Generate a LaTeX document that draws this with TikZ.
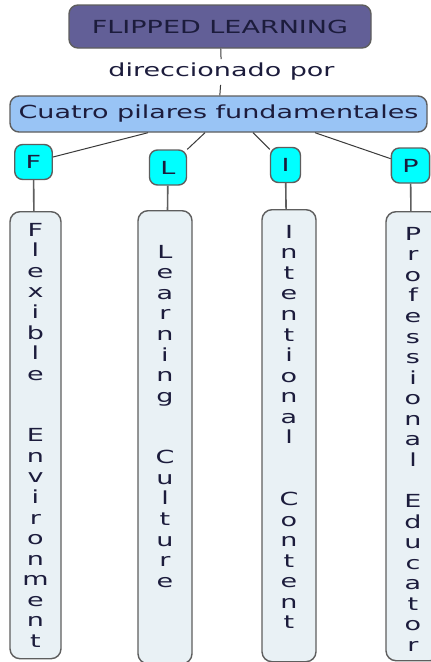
\documentclass[tikz,border=0pt]{standalone}
\usepackage{fontspec}
\usetikzlibrary{positioning}
\newfontfamily\mapfont[FakeStretch=1.5]{DejaVu Sans}
\definecolor{titlefill}{HTML}{625F97}
\definecolor{pillarfill}{HTML}{99C4F5}
\definecolor{initialfill}{HTML}{00FFFF}
\definecolor{colfill}{HTML}{E9F1F5}
\definecolor{edgegray}{HTML}{5E5E5E}
\definecolor{linkgray}{HTML}{3A3A3A}
\definecolor{inkblue}{HTML}{1C1C3C}
\def\mapsize{\fontsize{18}{20.55}\selectfont}

\tikzset{
  concept/.style={draw=edgegray, line width=1.4pt, rounded corners=9pt,
    font=\mapfont\mapsize, text=inkblue},
  initial/.style={concept, fill=initialfill, minimum height=35pt, inner xsep=11pt,
    rounded corners=8pt},
  column/.style={concept, fill=colfill, rounded corners=10pt},
  letters/.style={font=\mapfont\mapsize, text=inkblue, align=center, inner sep=0pt},
  link/.style={draw=linkgray, line width=1pt},
  stem/.style={draw=edgegray, line width=1.6pt}
}

\begin{document}
\begin{tikzpicture}[x=1pt,y=1pt]
  %%%%% START %%%%%
  \useasboundingbox[fill=white] (0,0) rectangle (431,-662);

  \node[concept, fill=titlefill, minimum width=302pt, minimum height=43pt] (flipped) at (220,-26.5) {FLIPPED LEARNING};
  \node[font=\mapfont\mapsize, text=inkblue, inner xsep=2pt, inner ysep=4pt] (verb) at (221.5,-72) {direccionado por};
  \node[concept, fill=pillarfill, minimum width=417pt, minimum height=36pt, inner xsep=2pt] (pillars) at (218.5,-114) {Cuatro pilares fundamentales};

  \draw[link] (flipped) -- (verb);
  \draw[link] (verb) -- (pillars);

  % the four letters
  \node[initial] (f) at (33.5,-162) {F};
  \node[initial] (l) at (168,-167.5) {L};
  \node[initial] (i) at (285.5,-165) {I};
  \node[initial] (p) at (410.5,-165.5) {P};

  \draw[link] ([xshift=-70.5pt]pillars.south) -- (f);
  \draw[link] ([xshift=-13.5pt]pillars.south) -- (l);
  \draw[link] ([xshift=34.5pt]pillars.south) -- (i);
  \draw[link] ([xshift=96.5pt]pillars.south) -- (p);

  % tall columns
  \node[column, anchor=north, minimum width=51pt, minimum height=447pt] (flexbox) at (35.5,-211) {};
  \node[column, anchor=north, minimum width=54pt, minimum height=453pt] (learnbox) at (165,-210) {};
  \node[column, anchor=north, minimum width=54pt, minimum height=452pt] (intentbox) at (289,-209) {};
  \node[column, anchor=north, minimum width=54pt, minimum height=449pt] (profbox) at (413,-211) {};

  \draw[stem] (f) -- (flexbox);
  \draw[stem] (l) -- (learnbox);
  \draw[stem] (i) -- (intentbox);
  \draw[stem] (p) -- (profbox);

  \node[letters, below=12pt of flexbox.north] (flextext)
    {F\\l\\e\\x\\i\\b\\l\\e\\ \\ \\E\\n\\v\\i\\r\\o\\n\\m\\e\\n\\t};
  \node[letters, below=35pt of learnbox.north] (learntext)
    {L\\e\\a\\r\\n\\i\\n\\g\\ \\ \\C\\u\\l\\t\\u\\r\\e};
  \node[letters, below=16pt of intentbox.north] (intenttext)
    {I\\n\\t\\e\\n\\t\\i\\o\\n\\a\\l\\ \\ \\C\\o\\n\\t\\e\\n\\t};
  \node[letters, below=16pt of profbox.north] (proftext)
    {P\\r\\o\\f\\e\\s\\s\\i\\o\\n\\a\\l\\ \\E\\d\\u\\c\\a\\t\\o\\r};
  %%%%% END %%%%%
\end{tikzpicture}
\end{document}
